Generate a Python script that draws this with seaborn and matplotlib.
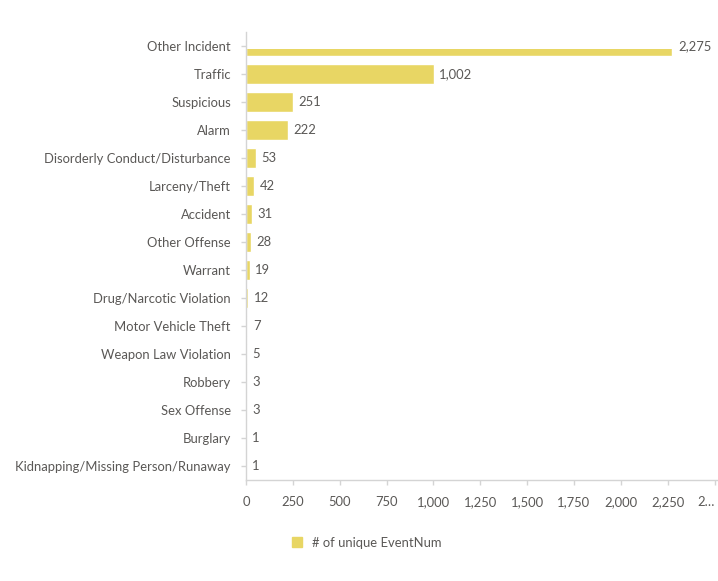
import matplotlib
matplotlib.use("Agg")
import matplotlib.pyplot as plt
from matplotlib.patches import Rectangle
from matplotlib.lines import Line2D
import seaborn as sns
import pandas as pd

categories = [
    "Other Incident", "Traffic", "Suspicious", "Alarm",
    "Disorderly Conduct/Disturbance", "Larceny/Theft", "Accident",
    "Other Offense", "Warrant", "Drug/Narcotic Violation",
    "Motor Vehicle Theft", "Weapon Law Violation", "Robbery",
    "Sex Offense", "Burglary", "Kidnapping/Missing Person/Runaway",
]
counts = [2275, 1002, 251, 222, 53, 42, 31, 28, 19, 12, 7, 5, 3, 3, 1, 1]
tick_values = [0, 250, 500, 750, 1000, 1250, 1500, 1750, 2000, 2250, 2500]
tick_labels = ["0", "250", "500", "750", "1,000", "1,250", "1,500",
               "1,750", "2,000", "2,250", "2…"]
series_name = "# of unique EventNum"

BAR = "#E8D664"
TEXT = "#5A5856"
AXIS = "#D4D4D4"
FS = 9.35

sns.set_theme(style="white")
plt.rcParams["font.family"] = ["Lato", "DejaVu Sans"]

df = pd.DataFrame({"category": categories, "count": counts})

fig = plt.figure(figsize=(7.18, 5.81), dpi=100)
ax = fig.add_axes([246 / 718, 1 - 480 / 581, (717 - 246) / 718, (480 - 32) / 581])

sns.barplot(data=df, y="category", x="count", color=BAR, width=0.71,
            saturation=1, ax=ax, orient="h")

# the top bar is partly scrolled out of its band
top = ax.patches[0]
top.set_clip_path(Rectangle((0, 0.12), 5000, 1, transform=ax.transData))

ax.set_xlim(0, 2513)
ax.set_ylim(len(categories) - 0.5, -0.5)
ax.set_xlabel("")
ax.set_ylabel("")
ax.set_xticks(tick_values)
ax.set_xticklabels(tick_labels)
ax.get_xticklabels()[-1].set_horizontalalignment("right")

for s in ["top", "right"]:
    ax.spines[s].set_visible(False)
for s in ["left", "bottom"]:
    ax.spines[s].set_color(AXIS)
    ax.spines[s].set_linewidth(1.0)

ax.tick_params(axis="both", colors=AXIS, labelcolor=TEXT, labelsize=FS,
               length=3.6, width=1, left=True, bottom=True)
ax.tick_params(axis="y", pad=7.3)
ax.tick_params(axis="x", pad=8)

for i, v in enumerate(counts):
    ax.annotate(f"{v:,}", xy=(v, i), xytext=(4, 0), textcoords="offset points",
                va="center", ha="left", color=TEXT, fontsize=FS)

handle = Line2D([], [], marker="s", linestyle="none", markersize=7.5,
                markerfacecolor=BAR, markeredgecolor=BAR)
fig.legend([handle], [series_name], loc="center left",
           bbox_to_anchor=(272 / 718, 1 - 543 / 581), frameon=False,
           handletextpad=0.2, fontsize=FS, labelcolor=TEXT)

fig.savefig("out.png", dpi=100)
